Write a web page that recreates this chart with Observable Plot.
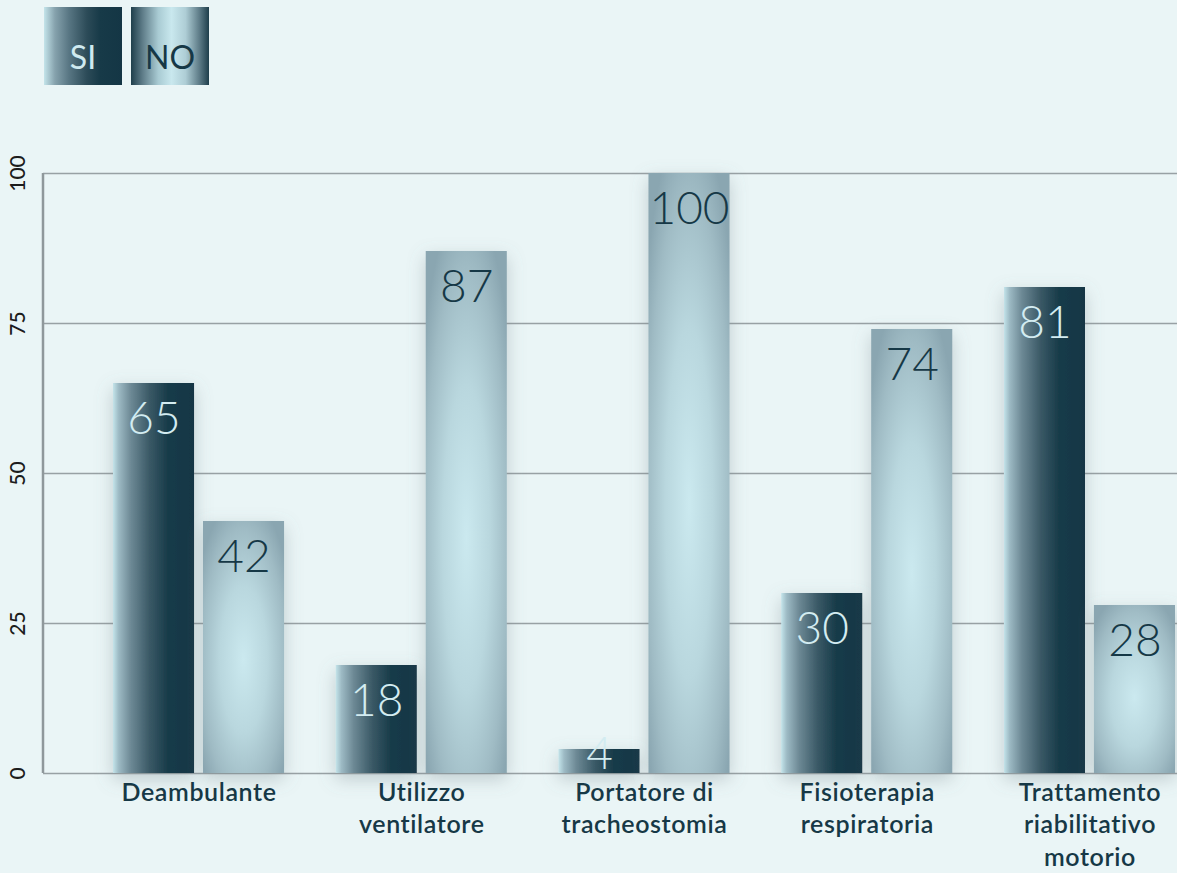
<!DOCTYPE html>
<html>
<head>
<meta charset="utf-8">
<script src="https://cdn.jsdelivr.net/npm/d3@7"></script>
<script src="https://cdn.jsdelivr.net/npm/@observablehq/plot@0.6"></script>
<style>
  html, body { margin: 0; padding: 0; background: #eaf5f6; width: 1177px; height: 873px; overflow: hidden; }
  body { position: relative; font-family: Lato, "Open Sans", sans-serif; }
  #legend { position: absolute; left: 44px; top: 7px; display: flex; gap: 9px; }
  .key { width: 78px; height: 78px; box-sizing: border-box; display: flex; align-items: flex-start; justify-content: center; padding-top: 34px; font-size: 32px; font-weight: 400; line-height: 1; }
  .key.si { background: linear-gradient(to right, #c4e4ea 0%, #86a2ad 14%, #587683 32%, #2c4b58 55%, #173a48 72%, #143645 100%); color: #cfeaf0; }
  .key.no { background: linear-gradient(to right, #1f3f4c 0%, #5f7d89 15%, #a9cbd3 35%, #c9e8ee 52%, #aecdd5 70%, #5c7a86 88%, #1f3f4c 100%); color: #163846; }
  #chart { position: absolute; left: 0; top: 95px; }
  .bars-si, .bars-no { filter: url(#shadow); }
</style>
</head>
<body>
<div id="legend"><div class="key si">SI</div><div class="key no">NO</div></div>
<div id="chart"></div>
<script>
const categories = ["Deambulante", "Utilizzo ventilatore", "Portatore di tracheostomia", "Fisioterapia respiratoria", "Trattamento riabilitativo motorio"];
const categoryLabels = ["Deambulante", "Utilizzo\nventilatore", "Portatore di\ntracheostomia", "Fisioterapia\nrespiratoria", "Trattamento\nriabilitativo\nmotorio"];
const siValues = [65, 18, 4, 30, 81];
const noValues = [42, 87, 100, 74, 28];
const yTicks = [0, 25, 50, 75, 100];

const data = categories.map((c, i) => ({cat: c, label: categoryLabels[i], si: siValues[i], no: noValues[i]}));

const tall = (k) => data.filter(d => d[k] >= 10);
const short = (k) => data.filter(d => d[k] < 10);

const plot = Plot.plot({
  width: 1177,
  height: 778,
  marginLeft: 43,
  marginRight: 0,
  marginTop: 78,
  marginBottom: 100,
  style: {background: "transparent", fontFamily: "Lato, 'Open Sans', sans-serif", overflow: "visible"},
  x: {type: "band", domain: categories, range: [113, 1175], paddingInner: 0.232, paddingOuter: 0, round: false, axis: null},
  y: {domain: [0, 100], axis: null},
  marks: [
    Plot.ruleY(yTicks, {stroke: "#98a1a4", strokeWidth: 1.5}),
    Plot.barY(data, {x: "cat", y: "si", insetRight: 90, insetLeft: 0, fill: "url(#gradSI)", className: "bars-si"}),
    Plot.barY(data, {x: "cat", y: "no", insetLeft: 90, insetRight: 0, fill: "url(#gradNO)", className: "bars-no"}),
    Plot.text(tall("si"), {x: "cat", y: "si", text: d => String(d.si), dx: -45, dy: 36, fontSize: 46, fontWeight: 300, fill: "#d3ecf1", lineAnchor: "middle"}),
    Plot.text(short("si"), {x: "cat", y: "si", text: d => String(d.si), dx: -45, dy: 5, fontSize: 46, fontWeight: 300, fill: "#d3ecf1", lineAnchor: "middle"}),
    Plot.text(tall("no"), {x: "cat", y: "no", text: d => String(d.no), dx: 45, dy: 36, fontSize: 46, fontWeight: 300, fill: "#163846", lineAnchor: "middle"}),
    Plot.text(short("no"), {x: "cat", y: "no", text: d => String(d.no), dx: 45, dy: 5, fontSize: 46, fontWeight: 300, fill: "#163846", lineAnchor: "middle"}),
    Plot.text(data, {x: "cat", frameAnchor: "bottom", text: "label", dy: 4, lineAnchor: "top", fontSize: 25, fontWeight: 600, fill: "#163846", lineHeight: 1.3}),
    Plot.text(yTicks, {y: d => d, text: d => String(d), frameAnchor: "left", dx: -25, rotate: -90, fontSize: 21, fontWeight: 500, fill: "#1c1c1c", lineAnchor: "middle", textAnchor: "middle"})
  ]
});

const svg = d3.select(plot);
const defs = svg.insert("defs", ":first-child");
const gs = defs.append("linearGradient").attr("id", "gradSI").attr("x1", 0).attr("x2", 1).attr("y1", 0).attr("y2", 0);
[[0, "#c4e4ea"], [0.07, "#9dbac4"], [0.22, "#6d8995"], [0.45, "#3a5966"], [0.68, "#183b49"], [1, "#143645"]]
  .forEach(([o, c]) => gs.append("stop").attr("offset", o).attr("stop-color", c));
const gn = defs.append("radialGradient").attr("id", "gradNO").attr("cx", 0.5).attr("cy", 0.55).attr("r", 0.65);
[[0, "#cbe9ef"], [0.45, "#b9d7de"], [0.8, "#9fbbc4"], [1, "#8aa6b1"]]
  .forEach(([o, c]) => gn.append("stop").attr("offset", o).attr("stop-color", c));
const f = defs.append("filter").attr("id", "shadow").attr("x", "-30%").attr("y", "-10%").attr("width", "160%").attr("height", "130%");
f.append("feDropShadow").attr("dx", 0).attr("dy", 6).attr("stdDeviation", 9).attr("flood-color", "#6f8085").attr("flood-opacity", 0.35);

// letter spacing for category labels
svg.selectAll("g[font-size='25'] text").style("letter-spacing", "0.6px");

// left axis line, positioned through the plot's y scale
const ys = plot.scale("y");
svg.append("line")
  .attr("x1", 43).attr("x2", 43)
  .attr("y1", ys.apply(0)).attr("y2", ys.apply(100))
  .attr("stroke", "#8f989b").attr("stroke-width", 2.5);

document.getElementById("chart").appendChild(plot);
</script>
</body>
</html>
